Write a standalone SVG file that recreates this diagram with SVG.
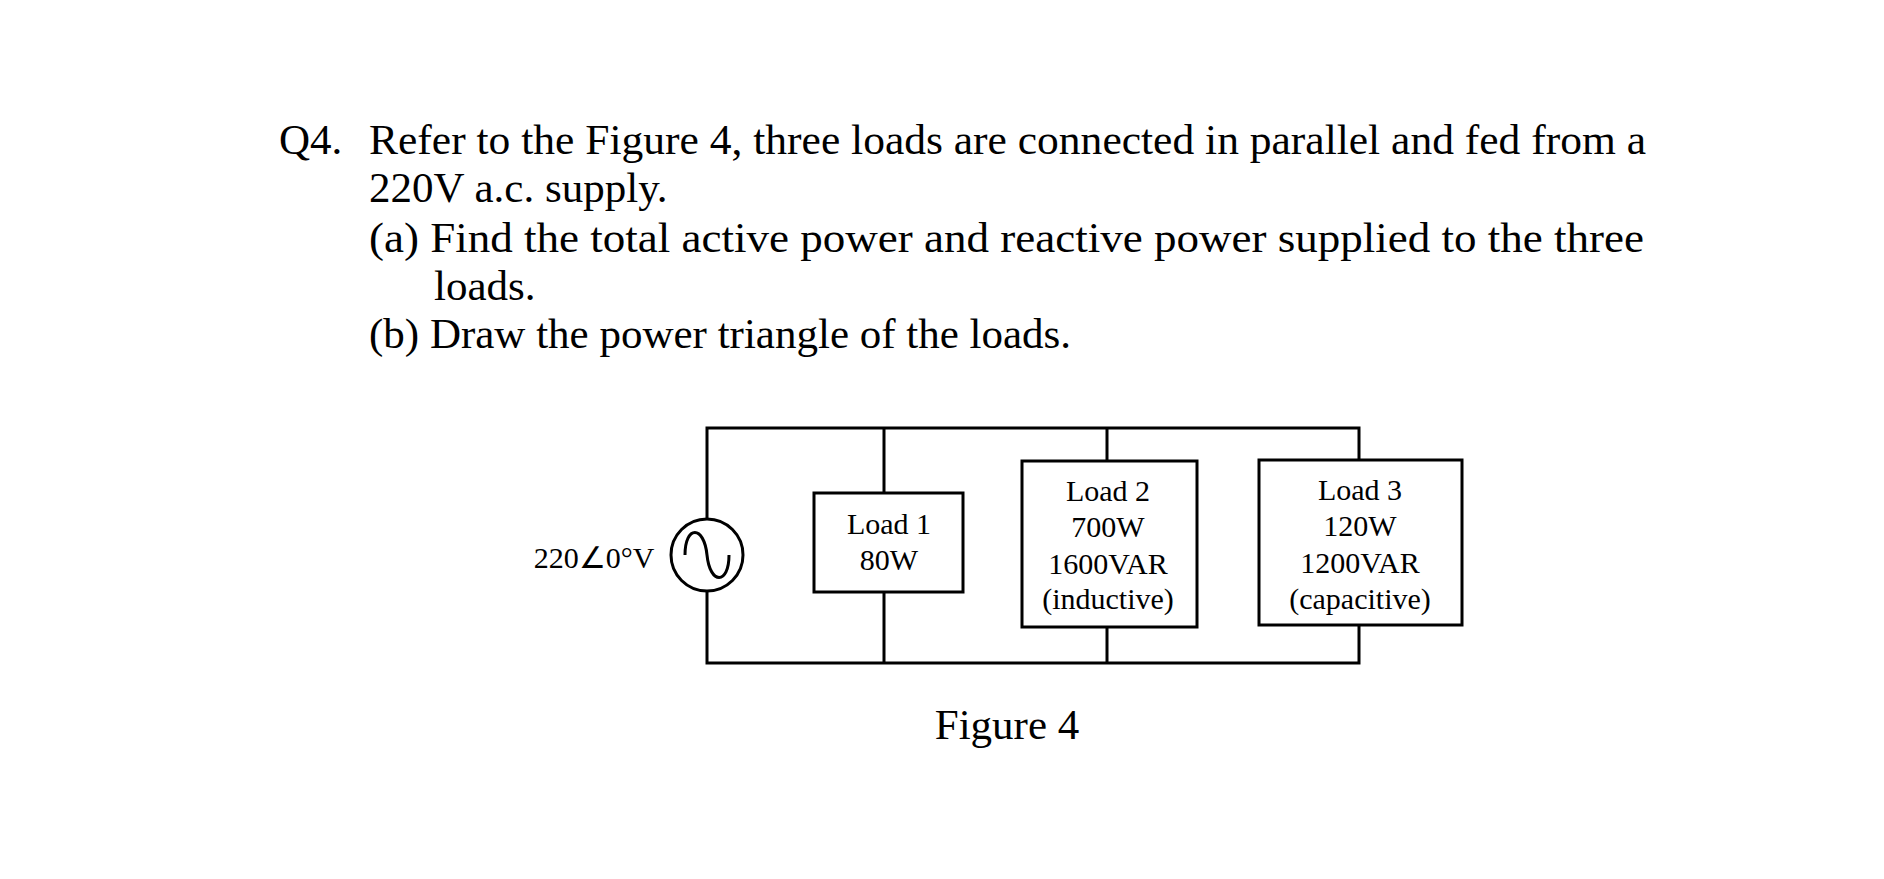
<svg xmlns="http://www.w3.org/2000/svg" width="1884" height="879" viewBox="0 0 1884 879">
<style>
text{font-family:"Liberation Serif","Times New Roman",serif;fill:#000}
.q{font-size:43px}
.l{font-size:30px;text-anchor:middle}
.w{stroke:#000;stroke-width:3;fill:none}
.b{stroke:#000;stroke-width:3;fill:#fff}
</style>
<rect width="1884" height="879" fill="#fff"/>
<text class="q" x="279" y="154">Q4.</text>
<text class="q" x="369" y="154" textLength="1277" lengthAdjust="spacingAndGlyphs">Refer to the Figure 4, three loads are connected in parallel and fed from a</text>
<text class="q" x="369" y="202">220V a.c. supply.</text>
<text class="q" x="369" y="252" textLength="1275" lengthAdjust="spacingAndGlyphs">(a) Find the total active power and reactive power supplied to the three</text>
<text class="q" x="434" y="300">loads.</text>
<text class="q" x="369" y="348">(b) Draw the power triangle of the loads.</text>
<g id="connectors">
<path class="w" d="M707 519 V428 H1359 V460 M884 428 V493 M1107 428 V461 M707 591 V663 H1359 V625 M884 592 V663 M1107 627 V663"/>
</g>
<g id="source">
<circle class="w" cx="707" cy="555" r="36"/>
<path class="w" d="M685 555 C685 525 704 525 707 555 C710 585 729 585 729 555"/>
<text class="l" x="594" y="568">220∠0°V</text>
</g>
<g id="load1">
<rect class="b" x="814" y="493" width="149" height="99"/>
<text class="l" x="889" y="534">Load 1</text>
<text class="l" x="889" y="570">80W</text>
</g>
<g id="load2">
<rect class="b" x="1022" y="461" width="175" height="166"/>
<text class="l" x="1108" y="501">Load 2</text>
<text class="l" x="1108" y="537">700W</text>
<text class="l" x="1108" y="574">1600VAR</text>
<text class="l" x="1108" y="609">(inductive)</text>
</g>
<g id="load3">
<rect class="b" x="1259" y="460" width="203" height="165"/>
<text class="l" x="1360" y="500">Load 3</text>
<text class="l" x="1360" y="536">120W</text>
<text class="l" x="1360" y="573">1200VAR</text>
<text class="l" x="1360" y="609">(capacitive)</text>
</g>
<text x="1007" y="739" font-size="43" text-anchor="middle">Figure 4</text>
</svg>
